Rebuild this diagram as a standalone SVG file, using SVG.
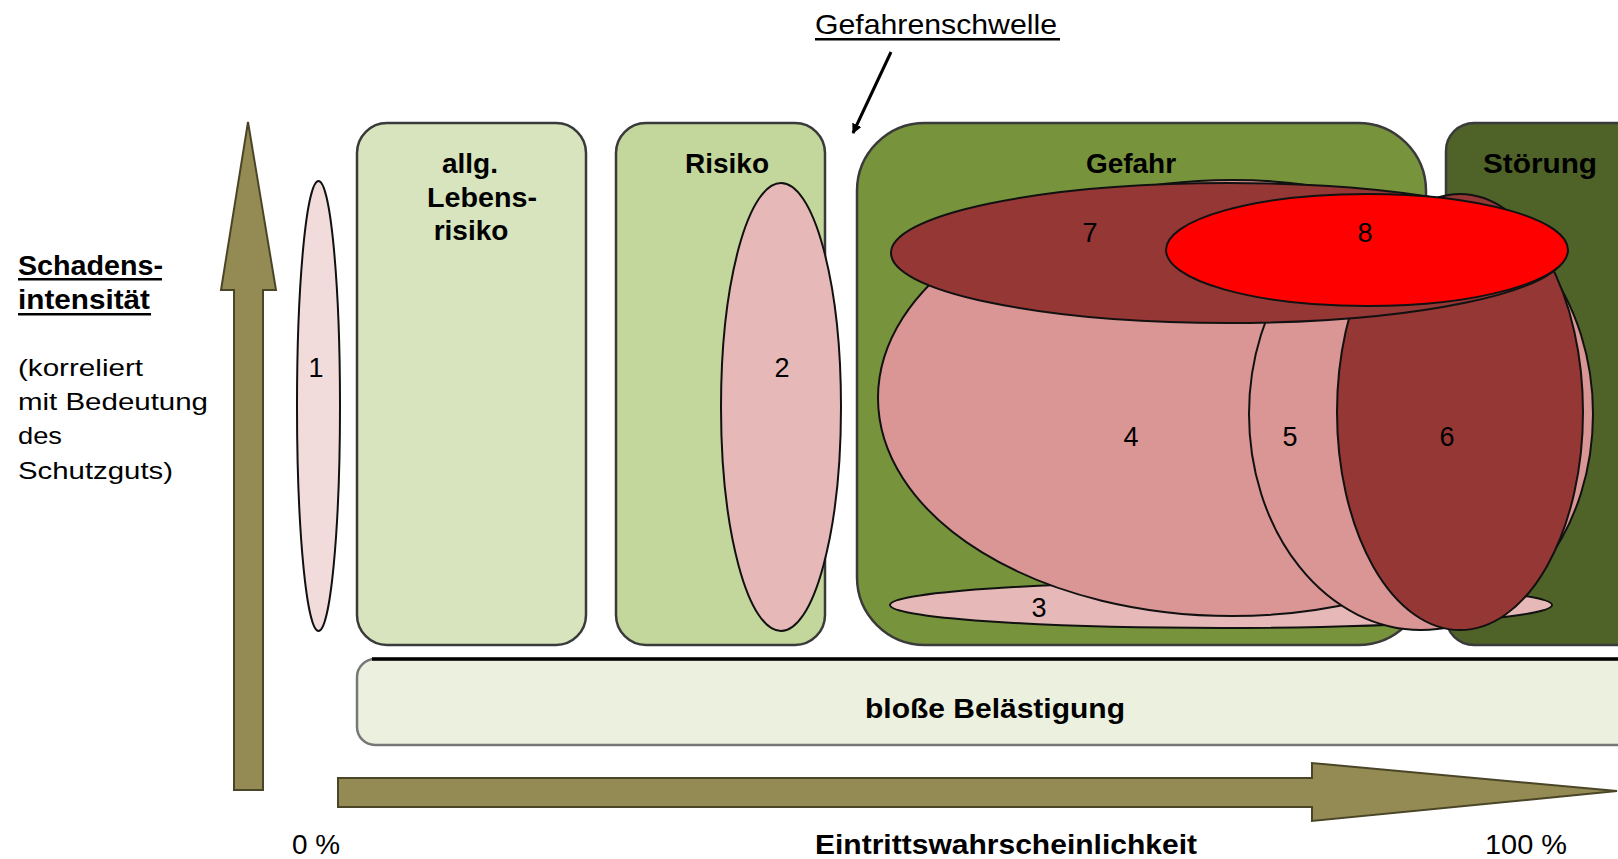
<svg xmlns="http://www.w3.org/2000/svg" width="1618" height="859" viewBox="0 0 1618 859">
<style>
text{font-family:"Liberation Sans",Arial,sans-serif;fill:#000}
.b{font-weight:bold;font-size:28px}
.r{font-size:28px}
.s{font-size:24px}
.lbl{font-size:27px;text-anchor:middle}
.mid{text-anchor:middle}
.box{stroke:#3a3a3a;stroke-width:2.5}
.ell{stroke:#111;stroke-width:2}
.axis{fill:#948a54;stroke:#4a4526;stroke-width:2}
</style>
<defs>
<marker id="ah" markerWidth="10" markerHeight="10" refX="9" refY="5" orient="auto" markerUnits="userSpaceOnUse" viewBox="0 0 10 10">
<path d="M0,0 L10,5 L0,10 z" fill="#000"/>
</marker>
</defs>
<rect width="1618" height="859" fill="#fff"/>

<g id="axis-y">
<polygon class="axis" points="248,122 276,290 263,290 263,790 234,790 234,290 221,290"/>
</g>
<g id="axis-x">
<polygon class="axis" points="338,778 1312,778 1312,763 1617,791 1312,821 1312,807 338,807"/>
</g>

<g id="label-y">
<text class="b" x="18" y="275" textLength="145" lengthAdjust="spacingAndGlyphs">Schadens-</text>
<rect x="18" y="278" width="144" height="2.5" fill="#000"/>
<text class="b" x="18" y="309" textLength="132" lengthAdjust="spacingAndGlyphs">intensität</text>
<rect x="18" y="313" width="133" height="2.5" fill="#000"/>
<text class="s" x="18" y="376" textLength="125" lengthAdjust="spacingAndGlyphs">(korreliert</text>
<text class="s" x="18" y="410" textLength="190" lengthAdjust="spacingAndGlyphs">mit Bedeutung</text>
<text class="s" x="18" y="444" textLength="44" lengthAdjust="spacingAndGlyphs">des</text>
<text class="s" x="18" y="479" textLength="155" lengthAdjust="spacingAndGlyphs">Schutzguts)</text>
</g>

<g id="label-x">
<text class="r" x="292" y="854" textLength="48" lengthAdjust="spacingAndGlyphs">0 %</text>
<text class="b" x="815" y="854" textLength="382" lengthAdjust="spacingAndGlyphs">Eintrittswahrscheinlichkeit</text>
<text class="r" x="1485" y="854" textLength="82" lengthAdjust="spacingAndGlyphs">100 %</text>
</g>

<g id="gefahrenschwelle">
<text class="r" x="815" y="34" textLength="242" lengthAdjust="spacingAndGlyphs">Gefahrenschwelle</text>
<rect x="815" y="38" width="245" height="2.5" fill="#000"/>
</g>

<g id="box-allg">
<rect class="box" x="357" y="123" width="229" height="522" rx="30" fill="#d7e4bd"/>
<text class="b mid" x="470" y="173">allg.</text>
<text class="b" x="427" y="207" textLength="110" lengthAdjust="spacingAndGlyphs">Lebens-</text>
<text class="b mid" x="471" y="240">risiko</text>
</g>

<g id="box-risiko">
<rect class="box" x="616" y="123" width="209" height="522" rx="30" fill="#c3d69b"/>
<text class="b mid" x="727" y="173">Risiko</text>
</g>

<g id="box-gefahr">
<rect class="box" x="857" y="123" width="569" height="522" rx="68" fill="#77933c"/>
<text class="b mid" x="1131" y="173">Gefahr</text>
</g>

<g id="box-stoerung">
<rect class="box" x="1446" y="123" width="200" height="522" rx="28" fill="#4f6228"/>
<text class="b" x="1483" y="173" textLength="114" lengthAdjust="spacingAndGlyphs">Störung</text>
</g>

<g id="bar-belaestigung">
<rect x="357" y="659" width="1290" height="86" rx="18" fill="#ebf1de" stroke="#777" stroke-width="2.5"/>
<line x1="372" y1="659" x2="1618" y2="659" stroke="#000" stroke-width="3.5"/>
<text class="b mid" x="995" y="718" textLength="260" lengthAdjust="spacingAndGlyphs">bloße Belästigung</text>
</g>

<g id="e1">
<ellipse class="ell" cx="318.5" cy="406" rx="21.5" ry="225" fill="#f2dcdb"/>
<text class="lbl" x="316" y="377">1</text>
</g>
<g id="e2">
<ellipse class="ell" cx="781" cy="407" rx="60" ry="224" fill="#e6b9b8"/>
<text class="lbl" x="782" y="377">2</text>
</g>
<g id="e3">
<ellipse class="ell" cx="1221" cy="605" rx="331" ry="23" fill="#e6b9b8"/>
<text class="lbl" x="1039" y="617">3</text>
</g>
<g id="e4">
<ellipse class="ell" cx="1232" cy="398" rx="354" ry="218" fill="#d99694"/>
<text class="lbl" x="1131" y="446">4</text>
</g>
<g id="e5">
<ellipse class="ell" cx="1421" cy="414" rx="172" ry="216" fill="#d99694"/>
<text class="lbl" x="1290" y="446">5</text>
</g>
<g id="e6">
<ellipse class="ell" cx="1460" cy="412" rx="123" ry="218" fill="#953735"/>
<text class="lbl" x="1447" y="446">6</text>
</g>
<g id="e7">
<ellipse class="ell" cx="1228" cy="253" rx="337" ry="70" fill="#953735"/>
<text class="lbl" x="1090" y="242">7</text>
</g>
<g id="e8">
<ellipse class="ell" cx="1367" cy="250" rx="201" ry="56" fill="#ff0000"/>
<text class="lbl" x="1365" y="242">8</text>
</g>

<g id="connectors">
<line x1="891" y1="52" x2="853" y2="133" stroke="#000" stroke-width="3" marker-end="url(#ah)"/>
</g>
</svg>
